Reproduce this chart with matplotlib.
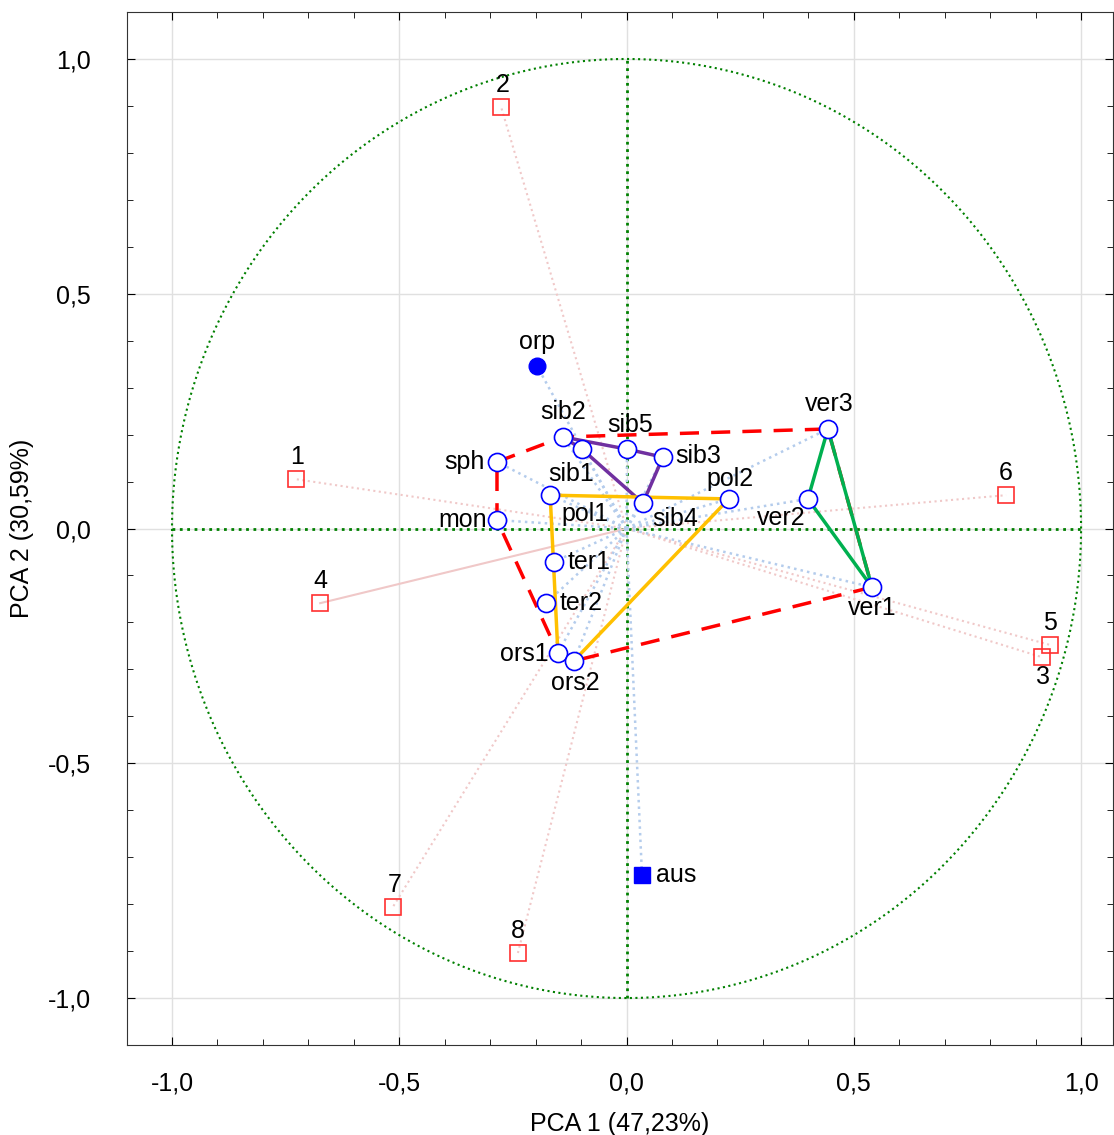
import numpy as np
import matplotlib
matplotlib.use("Agg")
import matplotlib.pyplot as plt
from matplotlib.ticker import MultipleLocator, FuncFormatter

plt.rcParams['font.family'] = ['Liberation Sans', 'DejaVu Sans']

# variables (active) - loadings on PCA1 / PCA2
var_names = ['sib2', 'sib1', 'sib5', 'sib3', 'sph', 'pol1', 'sib4', 'pol2',
             'ver3', 'ver2', 'mon', 'ter1', 'ter2', 'ors1', 'ors2', 'ver1']
var_x = [-0.140, -0.098, 0.001, 0.080, -0.285, -0.168, 0.036, 0.225,
         0.443, 0.399, -0.285, -0.160, -0.177, -0.151, -0.116, 0.540]
var_y = [0.195, 0.169, 0.169, 0.152, 0.142, 0.071, 0.054, 0.063,
         0.212, 0.063, 0.018, -0.071, -0.159, -0.265, -0.282, -0.125]

# supplementary variables
orp_xy = (-0.197, 0.346)
aus_xy = (0.034, -0.738)

# cases
case_names = ['1', '2', '3', '4', '5', '6', '7', '8']
case_x = [-0.727, -0.276, 0.914, -0.674, 0.932, 0.835, -0.514, -0.239]
case_y = [0.105, 0.898, -0.274, -0.159, -0.248, 0.071, -0.806, -0.904]

# polygons (by variable name)
hull_all = ['sph', 'sib2', 'ver3', 'ver1', 'ors2', 'ors1', 'mon', 'sph']
hull_sib = ['sib2', 'sib5', 'sib3', 'sib4', 'sib1', 'sib2']
hull_pol = ['pol1', 'pol2', 'ors2', 'ors1', 'pol1']
hull_ver = ['ver3', 'ver2', 'ver1', 'ver3']

# label offsets (points) and alignment
var_lab = {
    'sib2': (0, 9, 'center', 'bottom'), 'sib1': (-8, -9, 'center', 'top'),
    'sib5': (2, 9, 'center', 'bottom'), 'sib3': (9, 1, 'left', 'center'),
    'sph': (-9, 0, 'right', 'center'), 'pol1': (8, -5, 'left', 'top'),
    'sib4': (7, -3, 'left', 'top'), 'pol2': (1, 6, 'center', 'bottom'),
    'ver3': (1, 9, 'center', 'bottom'), 'ver2': (-2, -5, 'right', 'top'),
    'mon': (-7, 0, 'right', 'center'), 'ter1': (10, 0, 'left', 'center'),
    'ter2': (10, 0, 'left', 'center'), 'ors1': (-7, -1, 'right', 'center'),
    'ors2': (1, -7, 'center', 'top'), 'ver1': (0, -6, 'center', 'top'),
}
case_lab = {'1': (1, 7, 'center', 'bottom'), '2': (1, 7, 'center', 'bottom'),
            '3': (1, -6, 'center', 'top'), '4': (0, 7, 'center', 'bottom'),
            '5': (0, 7, 'center', 'bottom'), '6': (0, 7, 'center', 'bottom'),
            '7': (1, 7, 'center', 'bottom'), '8': (0, 7, 'center', 'bottom')}

FS = 18

fig = plt.figure(figsize=(11.14, 11.35), dpi=100)
ax = fig.add_axes([0.114, 0.0793, 0.885, 0.9101])

ax.set_xlim(-1.099, 1.07)
ax.set_ylim(-1.10, 1.10)

# grid
ax.xaxis.set_major_locator(MultipleLocator(0.5))
ax.yaxis.set_major_locator(MultipleLocator(0.5))
ax.xaxis.set_minor_locator(MultipleLocator(0.1))
ax.yaxis.set_minor_locator(MultipleLocator(0.1))
ax.grid(True, which='major', color='#e0e0e0', lw=1, zorder=0)
ax.set_axisbelow(True)

fmt = FuncFormatter(lambda v, p: ('%.1f' % v).replace('.', ','))
ax.xaxis.set_major_formatter(fmt)
ax.yaxis.set_major_formatter(fmt)
ax.tick_params(which='both', direction='in', top=True, right=True, labelsize=FS)
ax.tick_params(axis='x', which='major', pad=19)
ax.tick_params(axis='y', which='major', pad=26)
ax.tick_params(which='major', length=6)
ax.tick_params(which='minor', length=4)
for s in ax.spines.values():
    s.set_color('#333333')

# unit circle and axes
t = np.linspace(0, 2 * np.pi, 400)
ax.plot(np.cos(t), np.sin(t), color='#008000', ls=':', lw=1.5, zorder=1)
ax.plot([-1, 1], [0, 0], color='#008000', ls=':', lw=2, zorder=1)
ax.plot([0, 0], [-1, 1], color='#008000', ls=':', lw=2, zorder=1)

# rays from origin
for i in range(len(case_names)):
    ls = '-' if case_names[i] == '4' else ':'
    ax.plot([0, case_x[i]], [0, case_y[i]], color='#f0c8c8', ls=ls, lw=1.5, zorder=2)
for i in range(len(var_names)):
    ax.plot([0, var_x[i]], [0, var_y[i]], color='#b4ccec', ls=':', lw=1.8, zorder=2)
for px, py in [orp_xy, aus_xy]:
    ax.plot([0, px], [0, py], color='#b4ccec', ls=':', lw=1.8, zorder=2)

vx = dict(zip(var_names, var_x))
vy = dict(zip(var_names, var_y))

def poly(names, **kw):
    ax.plot([vx[n] for n in names], [vy[n] for n in names], zorder=3, **kw)

poly(hull_all, color='#ff0000', ls=(0, (5.5, 3.5)), lw=2.5)
poly(hull_sib, color='#7030a0', lw=2.5)
poly(hull_pol, color='#ffc000', lw=2.5)
poly(hull_ver, color='#00b050', lw=2.5)

# markers
ax.plot(var_x, var_y, 'o', ms=13, mfc='white', mec='#0000ff', mew=1.2, ls='none', zorder=4)
ax.plot(case_x, case_y, 's', ms=11.5, mfc='none', mec='#ff3030', mew=1.2, ls='none', zorder=4)
ax.plot(*orp_xy, 'o', ms=12, color='#0000ff', zorder=4)
ax.plot(*aus_xy, 's', ms=12, color='#0000ff', zorder=4)

for i, n in enumerate(var_names):
    dx, dy, ha, va = var_lab[n]
    ax.annotate(n, (var_x[i], var_y[i]), xytext=(dx, dy), textcoords='offset points',
                ha=ha, va=va, fontsize=FS, zorder=5)
for i, n in enumerate(case_names):
    dx, dy, ha, va = case_lab[n]
    ax.annotate(n, (case_x[i], case_y[i]), xytext=(dx, dy), textcoords='offset points',
                ha=ha, va=va, fontsize=FS, zorder=5)
ax.annotate('orp', orp_xy, xytext=(0, 9), textcoords='offset points',
            ha='center', va='bottom', fontsize=FS)
ax.annotate('aus', aus_xy, xytext=(10, 0), textcoords='offset points',
            ha='left', va='center', fontsize=FS)

ax.set_xlabel('PCA 1 (47,23%)', fontsize=FS, labelpad=12)
ax.set_ylabel('PCA 2 (30,59%)', fontsize=FS, labelpad=10)

fig.savefig('out.png', dpi=100)
